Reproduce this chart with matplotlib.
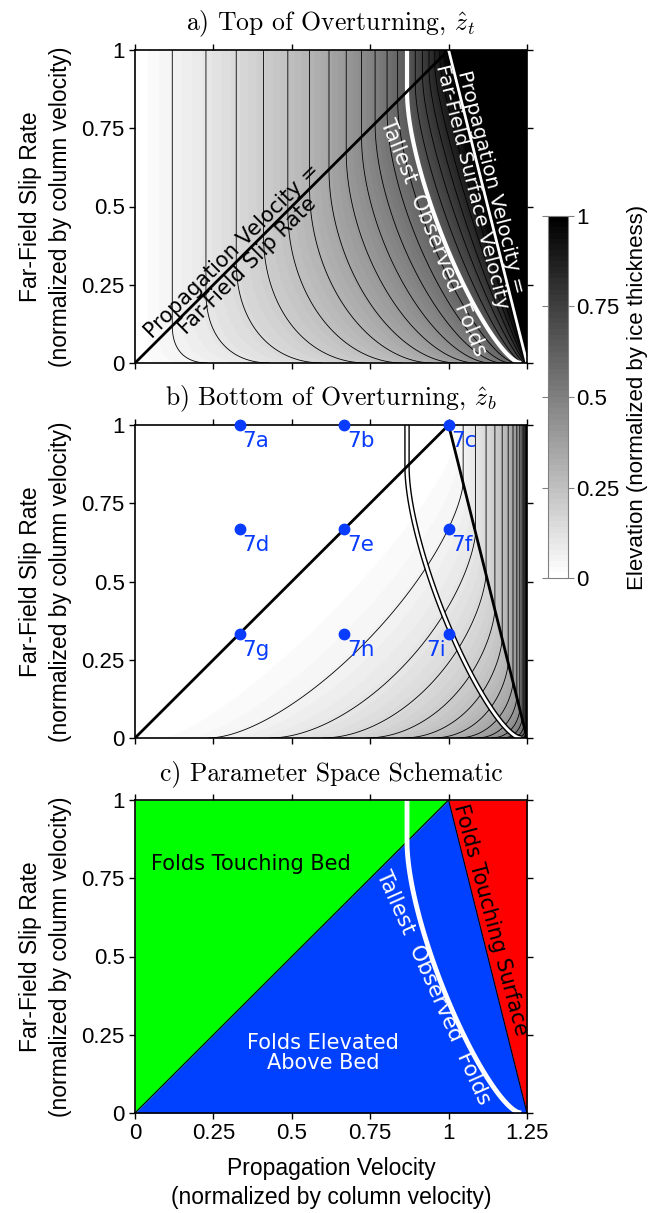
import numpy as np
import matplotlib
matplotlib.use('Agg')
import matplotlib.pyplot as plt

plt.rcParams['font.family'] = ['Liberation Sans', 'DejaVu Sans']
plt.rcParams['mathtext.fontset'] = 'cm'

# ticks
x_ticks = [0, 0.25, 0.5, 0.75, 1, 1.25]
x_tick_labels = ['0', '0.25', '0.5', '0.75', '1', '1.25']
y_ticks = [0, 0.25, 0.5, 0.75, 1]
y_tick_labels = ['0', '0.25', '0.5', '0.75', '1']
cbar_ticks = [0, 0.25, 0.5, 0.75, 1]
cbar_tick_labels = ['0', '0.25', '0.5', '0.75', '1']

# kinematic model: sticky patch, Glen flow law
glen_n = 3
contour_levels = [0.05, 0.1, 0.15, 0.2, 0.25, 0.3, 0.35, 0.4, 0.45, 0.5,
                  0.55, 0.6, 0.65, 0.7, 0.75, 0.8, 0.85, 0.9, 0.95]
tallest_fold = 0.65   # height of tallest observed folds

# model runs shown in figure 7
run_prop = [1/3, 2/3, 1, 1/3, 2/3, 1, 1/3, 2/3, 1]
run_slip = [1, 1, 1, 2/3, 2/3, 2/3, 1/3, 1/3, 1/3]
run_names = ['7a', '7b', '7c', '7d', '7e', '7f', '7g', '7h', '7i']

c_max = 1.25
K = (glen_n + 2) / (glen_n + 1)   # surface / column velocity


def F(z):
    # integral of the deformation profile shape
    return z - (1 - (1 - z) ** (glen_n + 2)) / (glen_n + 2)


c = np.linspace(0, c_max, 626)
s = np.linspace(0, 1, 501)
C, S = np.meshgrid(c, s)

# far-field stream function minimum
u_surf = S + (1 - S) * K
with np.errstate(divide='ignore', invalid='ignore'):
    frac = np.clip((C - S) / ((1 - S) * K), 0, 1)
zm = np.where(C <= S, 0.0,
              np.where(C >= u_surf, 1.0, 1 - (1 - frac) ** (1 / (glen_n + 1))))
psi_m = S * zm + (1 - S) * K * F(zm) - C * zm

# near-field (no slip) heights where psi equals far-field minimum
z_top = np.zeros_like(C)
z_bot = np.zeros_like(C)
for j, cj in enumerate(c):
    zs = 1 - max(1 - cj / K, 0) ** (1 / (glen_n + 1))
    z_lo = np.linspace(0, zs, 1500)
    p_lo = K * F(z_lo) - cj * z_lo
    z_bot[:, j] = np.interp(psi_m[:, j], p_lo[::-1], z_lo[::-1])
    z_hi = np.linspace(zs, 1, 1500)
    p_hi = K * F(z_hi) - cj * z_hi
    z_top[:, j] = np.interp(psi_m[:, j], p_hi, z_hi)

s_line = np.linspace(0, 1, 300)
c_slip = s_line
c_surf = s_line + (1 - s_line) * K

cmap = plt.get_cmap('gray_r', 64)

fig = plt.figure(figsize=(6.48, 12.13), dpi=100)
W, H = 648, 1213
L, R = 135, 527
ax_a = fig.add_axes([L / W, 1 - 363 / H, (R - L) / W, 313 / H])
ax_b = fig.add_axes([L / W, 1 - 738 / H, (R - L) / W, 313 / H])
ax_c = fig.add_axes([L / W, 1 - 1113 / H, (R - L) / W, 313 / H])
cax = fig.add_axes([548 / W, 1 - 578 / H, 20 / W, 362 / H])

title_kw = dict(fontfamily='cmr10', fontsize=18.5, pad=14)
lab = 'Far-Field Slip Rate\n(normalized by column velocity)'

for ax in (ax_a, ax_b, ax_c):
    ax.set_xlim(0, c_max)
    ax.set_ylim(0, 1)
    ax.set_xticks(x_ticks)
    ax.set_yticks(y_ticks)
    ax.set_yticklabels(y_tick_labels)
    ax.tick_params(direction='out', top=True, right=True, length=4,
                   width=1, labelsize=16)
    ax.set_ylabel(lab, fontsize=16.5, labelpad=7, linespacing=1.35)
    for sp in ax.spines.values():
        sp.set_linewidth(1.2)
ax_a.set_xticklabels([])
ax_b.set_xticklabels([])
ax_c.set_xticklabels(x_tick_labels)

# a) top of overturning
im = ax_a.imshow(z_top, extent=[0, c_max, 0, 1], origin='lower', aspect='auto',
                 cmap=cmap, vmin=0, vmax=1, interpolation='bilinear')
ax_a.contour(c, s, z_top, levels=contour_levels, colors='k', linewidths=0.6)
ax_a.contour(c, s, z_top, levels=[tallest_fold], colors='w', linewidths=3)
ax_a.plot(c_slip, s_line, color='k', lw=2)
ax_a.plot(c_surf, s_line, color='w', lw=2)
ax_a.text(0.335, 0.335, 'Propagation Velocity =\nFar-Field Slip Rate', rotation=44.8,
          rotation_mode='anchor', ha='center', va='center', fontsize=15,
          family='DejaVu Sans', linespacing=1.05)
ax_a.text(0.952, 0.40, 'Tallest  Observed  Folds', rotation=-68, rotation_mode='anchor',
          ha='center', va='center', fontsize=15.5, color='w', family='DejaVu Sans')
ax_a.text(1.106, 0.572, 'Propagation Velocity =\nFar-Field Surface Velocity',
          rotation=-75.9, rotation_mode='anchor', ha='center', va='center',
          fontsize=14.5, color='w', family='DejaVu Sans', linespacing=1.05)
ax_a.set_title('a) Top of Overturning, $\\hat{z}_t$', **title_kw)

# b) bottom of overturning
ax_b.imshow(z_bot, extent=[0, c_max, 0, 1], origin='lower', aspect='auto',
            cmap=cmap, vmin=0, vmax=1, interpolation='bilinear')
ax_b.contour(c, s, z_bot, levels=contour_levels, colors='k', linewidths=0.6)
ax_b.contour(c, s, z_top, levels=[tallest_fold], colors='k', linewidths=4)
ax_b.contour(c, s, z_top, levels=[tallest_fold], colors='w', linewidths=2)
ax_b.plot(c_slip, s_line, color='k', lw=2)
ax_b.plot(c_surf, s_line, color='k', lw=2)
ax_b.plot(run_prop, run_slip, 'o', color='#0a3cff', ms=7.5, clip_on=False, zorder=5)
for x, y, name in zip(run_prop, run_slip, run_names):
    if name == '7i':
        off, ha = (-3, -6), 'right'
    else:
        off, ha = (3, -6), 'left'
    ax_b.annotate(name, (x, y), xytext=off, textcoords='offset pixels', ha=ha,
                  va='top', fontsize=15.5, color='#0a3cff', family='DejaVu Sans',
                  zorder=6)
ax_b.set_title('b) Bottom of Overturning, $\\hat{z}_b$', **title_kw)

# c) schematic
ax_c.fill_betweenx(s_line, 0, c_slip, color='#00ff00', lw=0)
ax_c.fill_betweenx(s_line, c_slip, c_surf, color='#0040ff', lw=0)
ax_c.fill_betweenx(s_line, c_surf, c_max, color='#ff0000', lw=0)
ax_c.plot(c_slip, s_line, color='k', lw=0.8)
ax_c.plot(c_surf, s_line, color='k', lw=0.8)
ax_c.contour(c, s, z_top, levels=[tallest_fold], colors='w', linewidths=3.5)
ax_c.text(0.37, 0.797, 'Folds Touching Bed', ha='center', va='center',
          fontsize=15, family='DejaVu Sans')
ax_c.text(0.60, 0.192, 'Folds Elevated\nAbove Bed', ha='center', va='center',
          fontsize=15, color='w', family='DejaVu Sans', linespacing=1.05)
ax_c.text(0.952, 0.40, 'Tallest  Observed  Folds', rotation=-66, rotation_mode='anchor',
          ha='center', va='center', fontsize=15.5, color='w', family='DejaVu Sans')
ax_c.text(1.133, 0.616, 'Folds Touching Surface', rotation=-75, rotation_mode='anchor',
          ha='center', va='center', fontsize=15, family='DejaVu Sans')
ax_c.set_title('c) Parameter Space Schematic', **title_kw)
ax_c.set_xlabel('Propagation Velocity\n(normalized by column velocity)',
                fontsize=16.5, labelpad=9, linespacing=1.35)

cb = fig.colorbar(im, cax=cax, ticks=cbar_ticks)
cb.ax.set_yticklabels(cbar_tick_labels)
cb.outline.set_edgecolor('0.5')
cax.tick_params(left=True, right=True, direction='out', length=4, color='0.5',
                labelsize=16, pad=2)
cb.set_label('Elevation (normalized by ice thickness)', fontsize=16, labelpad=5)

fig.savefig('out.png', dpi=100)
